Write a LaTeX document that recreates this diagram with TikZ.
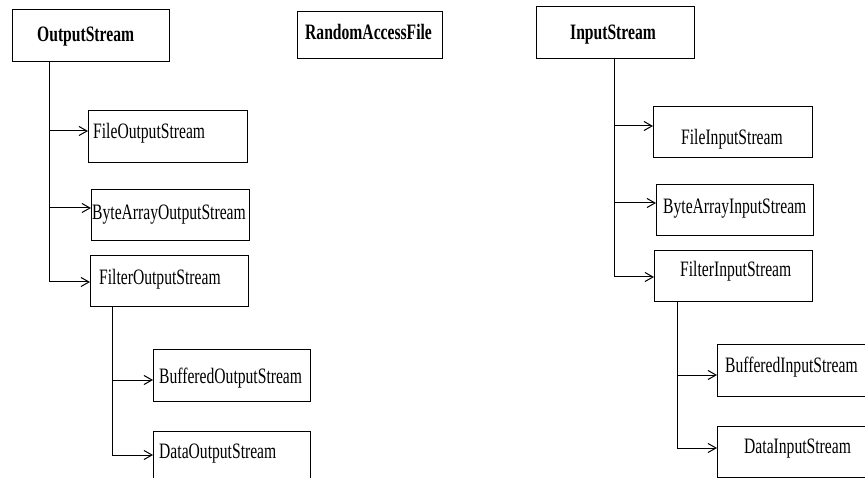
\documentclass[tikz,border=0pt]{standalone}
\usepackage{fontspec}
\setmainfont{Liberation Serif}[FakeStretch=0.71]
\usetikzlibrary{arrows.meta,positioning,calc}
\definecolor{cLine}{HTML}{000000}
\tikzset{
  cls/.style   ={draw=cLine,line width=1.2pt,fill=white,inner sep=0pt,anchor=north west},
  nm/.style    ={font=\fontsize{22}{26}\selectfont,inner sep=0pt,anchor=base west},
  hd/.style    ={nm,font=\fontsize{22}{26}\selectfont\bfseries},
  trunk/.style ={draw=cLine,line width=1pt},
  inh/.style   ={-{Straight Barb[length=8pt,width=9pt,line width=1pt]},draw=cLine,line width=1pt},
}

\begin{document}
\begin{tikzpicture}[x=1pt, y=-1pt]
\useasboundingbox (0,0) rectangle (865,478);
\clip (0,0) rectangle (865,478);

% ---- class boxes ---------------------------------------------------------
% {name}/{left}/{top}/{right}/{bottom}
\foreach \n/\xa/\ya/\xb/\yb in {%
  os/12/9/169/61, raf/297/11/442/58, is/536/6/694/58,
  fos/88/110/247/162, baos/91/189/249/240, filos/90/255/248/306,
  bos/153/349/310/401, dos/153/431/310/485,
  fis/653/106/812/157, bais/656/184/813/235, filis/654/250/812/301,
  bis/717/344/872/396, dis/717/426/872/477}{%
    \pgfmathsetmacro\w{\xb-\xa}
    \pgfmathsetmacro\h{\yb-\ya}
    \node[cls,minimum width=\w pt,minimum height=\h pt] (\n) at (\xa,\ya) {};
}

% ---- class names ---------------------------------------------------------
\node[hd] (osL)    at (37,42)   {OutputStream};
\node[hd] (rafL)   at (305,40)  {RandomAccessFile};
\node[hd] (isL)    at (570,40)  {InputStream};
\node[nm] (fosL)   at (93,139)  {FileOutputStream};
\node[nm] (baosL)  at (92,220)  {ByteArrayOutputStream};
\node[nm] (filosL) at (99,285)  {FilterOutputStream};
\node[nm] (bosL)   at (159,383) {BufferedOutputStream};
\node[nm] (dosL)   at (159,458) {DataOutputStream};
\node[nm] (fisL)   at (681,145) {FileInputStream};
\node[nm] (baisL)  at (663,214) {ByteArrayInputStream};
\node[nm] (filisL) at (680,277) {FilterInputStream};
\node[nm] (bisL)   at (725,373) {BufferedInputStream};
\node[nm] (disL)   at (744,453) {DataInputStream};

% ---- branch points on the trunks -----------------------------------------
\coordinate (o1) at (49,131);  \coordinate (o2) at (49,208);  \coordinate (o3) at (49,282);
\coordinate (f1) at (112,380); \coordinate (f2) at (112,455);
\coordinate (i1) at (614,126); \coordinate (i2) at (614,203); \coordinate (i3) at (614,277);
\coordinate (g1) at (677,375); \coordinate (g2) at (677,448);

% ---- trunks and arrows ---------------------------------------------------
\draw[trunk] (os.south -| o1) -- (o3);
\draw[trunk] (filos.south -| f1) -- (f2);
\draw[trunk] (is.south -| i1) -- (i3);
\draw[trunk] (filis.south -| g1) -- (g2);
\foreach \b/\t in {o1/fos, o2/baos, o3/filos, f1/bos, f2/dos,
                   i1/fis, i2/bais, i3/filis, g1/bis, g2/dis}
  \draw[inh] (\b) -- (\b -| \t.west);
\end{tikzpicture}
\end{document}
